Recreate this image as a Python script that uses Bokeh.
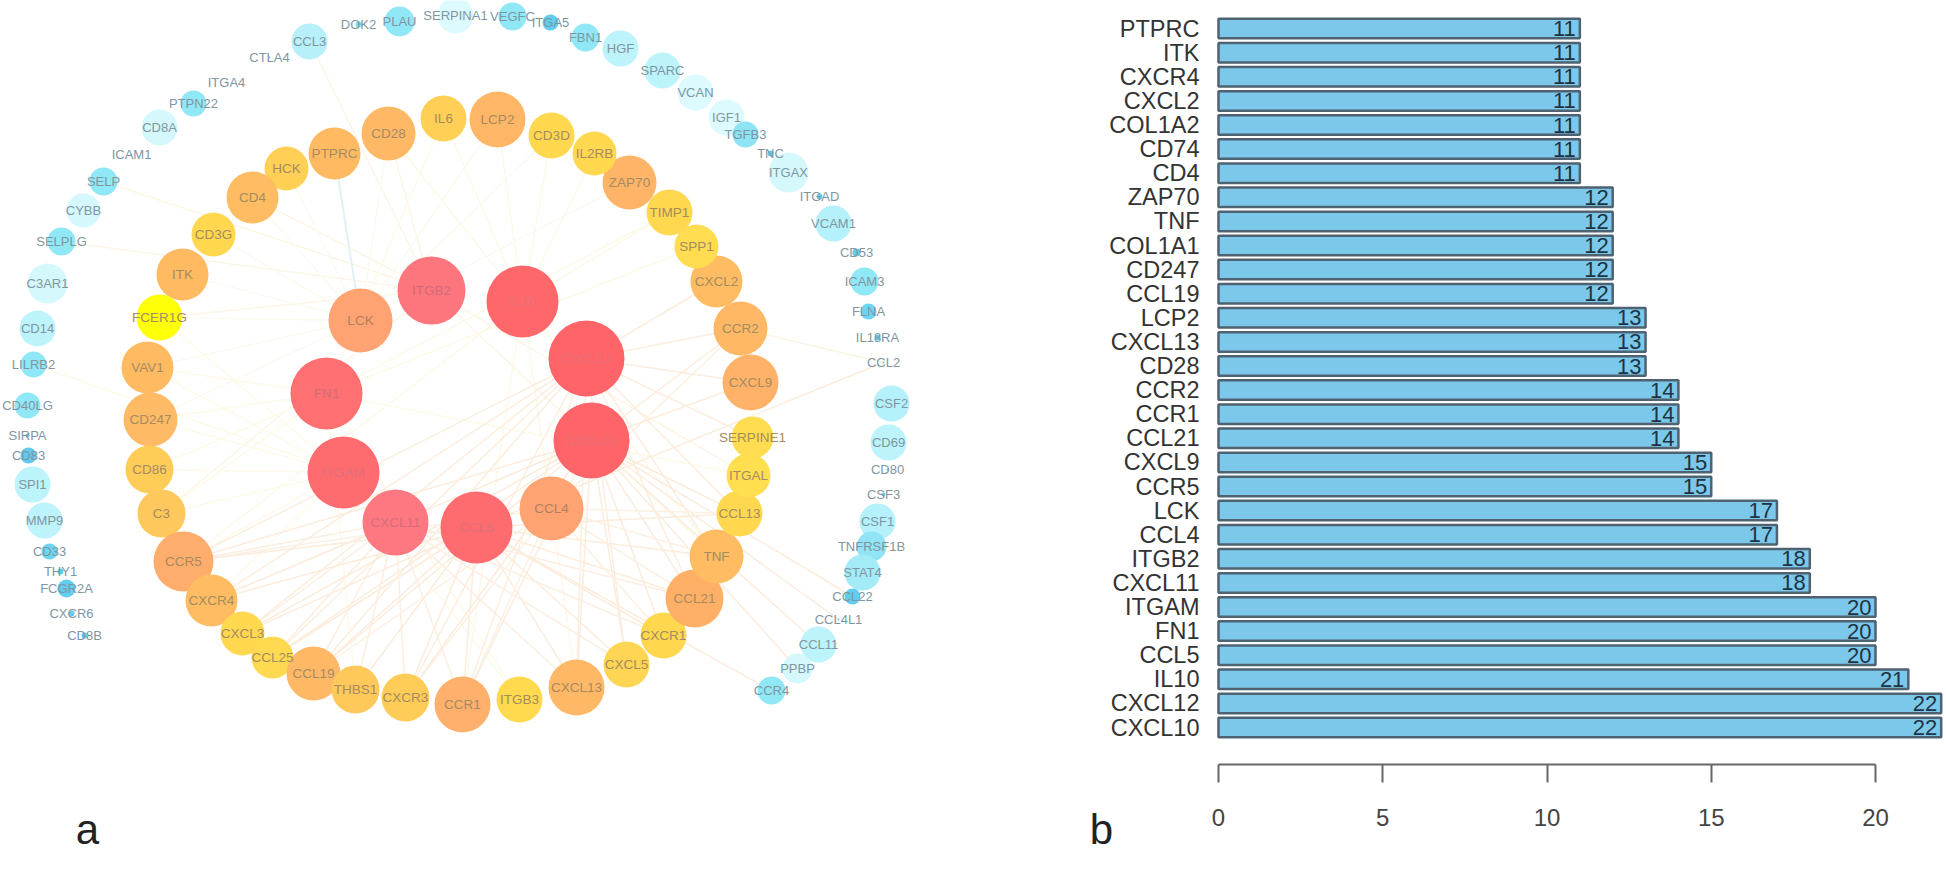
from bokeh.plotting import figure
from bokeh.layouts import row
from bokeh.models import Range1d, FixedTicker
from bokeh.core.properties import value
from bokeh.embed import file_html
from bokeh.resources import INLINE

# ---------- panel b: degree of the top 30 hub genes ----------
bar_genes = ["CXCL10","CXCL12","IL10","CCL5","FN1","ITGAM","CXCL11","ITGB2","CCL4","LCK",
             "CCR5","CXCL9","CCL21","CCR1","CCR2","CD28","CXCL13","LCP2","CCL19","CD247",
             "COL1A1","TNF","ZAP70","CD4","CD74","COL1A2","CXCL2","CXCR4","ITK","PTPRC"]
bar_values = [22,22,21,20,20,20,18,18,17,17,15,15,14,14,14,13,13,13,12,12,12,12,12,11,11,11,11,11,11,11]
x_ticks = [0,5,10,15,20]

# ---------- panel a: network nodes ----------
inner_names = ["ITGB2","CXCL12","CXCL10","IL10","LCK","FN1","ITGAM","CXCL11","CCL5","CCL4"]
inner_x = [431,586,591,522,360,326,343,395,476,551]
inner_y = [290,358,440,301,320,393,472,522,527,508]
inner_r = [34,38,38,36,32,36,36,33,36,32]
inner_c = ["#FD767E","#FF6468","#FF6468","#FF686A","#FFA373","#FF7072","#FF6C70","#FD7880","#FF6C70","#FFA373"]
inner_t = ["#D06C78","#E8707A","#E8707A","#E8707A","#B07F60","#D06C78","#E0707A","#D86C7C","#E0707A","#B07F60"]

ring_names = ["CD28","PTPRC","HCK","CD4","CD3G","ITK","FCER1G","VAV1","CD247","CD86","C3","CCR5","CXCR4",
              "CXCL3","CCL25","CCL19","THBS1","CXCR3","CCR1","ITGB3","CXCL13","CXCL5","CXCR1","CCL21","TNF",
              "CCL13","ITGAL","SERPINE1","CXCL9","CCR2","CXCL2","SPP1","TIMP1","ZAP70","IL2RB","CD3D","LCP2","IL6"]
ring_x = [388,334,286,252,213,182,159,147,150,149,161,183,211,242,272,313,355,405,462,519,576,626,663,694,716,
          739,748,752,750,740,716,696,669,629,594,551,497,443]
ring_y = [133,153,168,197,234,274,317,367,419,469,513,561,600,633,657,673,689,697,704,699,687,664,635,598,556,
          513,475,437,382,328,281,246,212,182,153,135,119,118]
ring_r = [27,26,22,26,22,26,23,26,27,24,24,30,26,22,21,27,24,24,28,23,28,23,23,29,27,23,22,21,28,27,26,22,23,27,22,23,28,23]
ring_c = ["#FFB866","#FFBA62","#FFD055","#FFBC62","#FFD850","#FFBA62","#FFFF08","#FFBA62","#FFBA66","#FFCC58",
          "#FFC85C","#FFAD6C","#FFBC62","#FFD850","#FFDA50","#FFB866","#FFC85A","#FFCC58","#FFB06C","#FFDA4E",
          "#FFB866","#FFD654","#FFD850","#FFB066","#FFBC62","#FFD850","#FFDE50","#FFDC50","#FFB268","#FFB866",
          "#FFBC62","#FFDC50","#FFD850","#FFB468","#FFD850","#FFD850","#FFB666","#FFD055"]

outer_names = ["CCL3","DOK2","PLAU","SERPINA1","VEGFC","ITGA5","FBN1","HGF","SPARC","VCAN","IGF1","TGFB3","TNC","ITGAX",
               "ITGAD","VCAM1","CD53","ICAM3","FLNA","IL18RA","CCL2","CSF2","CD69","CD80","CSF3","CSF1","TNFRSF1B",
               "STAT4","CCL22","CCL4L1","CCL11","PPBP","CCR4","CTLA4","ITGA4","PTPN22","CD8A","ICAM1","SELP","CYBB",
               "SELPLG","C3AR1","CD14","LILRB2","CD40LG","SIRPA","CD83","SPI1","MMP9","CD33","THY1","FCGR2A","CXCR6","CD8B"]
outer_x = [309,358,399,455,512,550,585,620,662,695,726,745,770,788,819,833,856,864,868,877,883,891,888,887,883,877,871,
           862,852,838,818,797,771,269,226,193,159,131,103,83,61,47,37,33,27,27,28,32,44,49,60,66,71,84]
outer_y = [41,24,21,15,16,22,37,48,70,92,117,134,153,172,196,223,252,281,311,337,362,403,442,469,494,521,546,
           572,596,619,644,668,690,57,82,103,127,154,181,210,241,283,328,364,405,435,455,484,520,551,571,588,613,635]
outer_r = [18,3,15,18,14,8,14,18,18,18,18,13,3,20,3,18,4,14,8,3,1,18,18,1,2,18,15,18,8,1,18,15,14,1,1,13,18,1,14,17,14,20,
           18,13,13,2,8,18,18,8,3,9,3,3]
outer_c = ["#B8F0FA","#7FDDF2","#90E8F6","#DDFAFE","#90E8F6","#62CDEE","#90E8F6","#BDF3FB","#BDF3FB","#DDFAFE","#DDFAFE",
           "#8CE4F5","#62CDEE","#D5F8FD","#62CDEE","#B5F1FA","#62CDEE","#90E8F6","#6CD6F2","#62CDEE","#62CDEE","#B5F1FA",
           "#BDF3FB","#62CDEE","#62CDEE","#B5F1FA","#90E4F6","#A4EBF8","#62CDEE","#62CDEE","#BDF3FB","#D5F8FD","#90E8F6",
           "#62CDEE","#62CDEE","#90E8F6","#D5F8FD","#62CDEE","#90E8F6","#D5F8FD","#90E8F6","#D5F8FD","#BDF3FB","#90E8F6",
           "#90E8F6","#62CDEE","#62C8EC","#BDF3FB","#BDF3FB","#6CD6F2","#62CDEE","#62CDEE","#62CDEE","#62CDEE"]

# links of each hub, estimated from the faint lines
hub_links = {
    "ITGB2":  ["CCL3","SELP","SELPLG","CD4","C3","FCER1G","ITGAL","TNF","CD28"],
    "LCK":    ["CD4","CD3G","ITK","FCER1G","VAV1","CD247","CD3D","ZAP70","LCP2","CD28","HCK"],
    "FN1":    ["ITGB3","C3","CD86","CD247","VAV1","TIMP1","SPP1","ITGAL","THBS1","IL6"],
    "IL10":   ["IL6","CD28","LCP2","CCR5","TNF","CXCL13","TIMP1","CCR1","IL2RB","CD3D"],
    "ITGAM":  ["CCR5","C3","CD86","CD247","VAV1","FCER1G","LILRB2","CXCR4","ITGB3"],
    "CXCL12": ["CXCR4","CCL19","CCL21","CXCL2","CCR2","CXCL9","CXCR3","CCR1","TNF","CXCL3","CXCL5","CCL25","CCR5","CXCL13",
               "SERPINE1","CCL13"],
    "CXCL10": ["CCR2","CXCL9","CCL13","CCL21","CXCR1","CXCL5","CXCL13","CCR1","CXCR3","CXCR4","CCR5","CXCL3","CCL25",
               "CCL19","CCL11","CCL22","CCL4L1","PPBP"],
    "CCL5":   ["CCR1","CCR5","CXCR3","CXCL3","CXCL5","CCL19","CCL25","CCL21","CCL13","CXCR1","CXCL13","THBS1","TNF","CXCR4",
               "CCR4","CCL2"],
    "CXCL11": ["CCR5","CXCR4","CXCL3","CCL25","CCL19","THBS1","CXCR3","CCR1","CXCL13","CXCL5","CCL21","CXCR1"],
    "CCL4":   ["CCL13","CCR1","CCR5","TNF","CCL19","CXCR3","CCL21","CXCR1","CCR2"],
    "CCR2":   ["CCL2"],
}
hub_edge_color = {"ITGB2":"#FCF6E6","LCK":"#FAFBF0","FN1":"#FDFAE8","IL10":"#FDF9E8","ITGAM":"#FDFAEA",
                  "CXCL12":"#FCEEDE","CXCL10":"#FCECDC","CCL5":"#FCECDC","CXCL11":"#FCEEE0","CCL4":"#FCF0E2","CCR2":"#FBF5E6"}

W, H = 1944, 880
LEFT_W = 1000
AXIS_Y = 764
BAR_LEFT, BAR_UNIT = 1218, 32.85
BAR_BOTTOM_CENTRE, BAR_STEP = 727, 24.1

# ---------- panel a ----------
pa = figure(width=LEFT_W, height=H, x_range=Range1d(0, LEFT_W), y_range=Range1d(H, 0),
            output_backend="svg", toolbar_location=None, outline_line_color=None, min_border=0,
            background_fill_color="white", border_fill_color="white")
pa.axis.visible = False
pa.grid.visible = False

pos = {}
for names, xs, ys in ((inner_names, inner_x, inner_y), (ring_names, ring_x, ring_y), (outer_names, outer_x, outer_y)):
    for n, x, y in zip(names, xs, ys):
        pos[n] = (x, y)
for hub, targets in hub_links.items():
    pa.segment([pos[hub][0]]*len(targets), [pos[hub][1]]*len(targets),
               [pos[t][0] for t in targets], [pos[t][1] for t in targets],
               line_color=hub_edge_color[hub], line_width=1.5)
pa.segment([pos["PTPRC"][0]], [pos["PTPRC"][1]], [pos["LCK"][0]], [pos["LCK"][1]], line_color="#E3F1F5", line_width=2)

font = value("Liberation Sans")
pa.circle(outer_x, outer_y, radius=outer_r, fill_color=outer_c, line_color=None)
pa.circle(ring_x, ring_y, radius=ring_r, fill_color=ring_c, line_color=None)
pa.circle(inner_x, inner_y, radius=inner_r, fill_color=inner_c, line_color=None)
pa.text(outer_x, outer_y, text=outer_names, text_font=font, text_font_size="13px", text_color="#7F96A2",
        text_align="center", text_baseline="middle")
pa.text(ring_x, ring_y, text=ring_names, text_font=font, text_font_size="13.5px", text_color="#A58B60",
        text_align="center", text_baseline="middle")
pa.text(inner_x, inner_y, text=inner_names, text_font=font, text_font_size="13.5px", text_color=inner_t,
        text_align="center", text_baseline="middle")
pa.text([87], [829], text=["a"], text_font=font, text_font_size="42px", text_color="#222222",
        text_align="center", text_baseline="middle")

# ---------- panel b ----------
bar_y = list(range(len(bar_genes)))
pb = figure(width=W-LEFT_W, height=H,
            x_range=Range1d((LEFT_W-BAR_LEFT)/BAR_UNIT, (W-BAR_LEFT)/BAR_UNIT),
            y_range=Range1d((BAR_BOTTOM_CENTRE-H)/BAR_STEP, BAR_BOTTOM_CENTRE/BAR_STEP),
            output_backend="svg", toolbar_location=None, outline_line_color=None, min_border=0,
            background_fill_color="white", border_fill_color="white")
pb.grid.visible = False
pb.hbar(y=bar_y, right=bar_values, left=0, height=0.81, fill_color="#7CC8EA", line_color="#4F6272", line_width=2.5)
pb.text(x=bar_values, y=bar_y, text=[str(v) for v in bar_values], x_offset=-4,
        text_font=font, text_font_size="22px", text_color="#1E3344",
        text_align="right", text_baseline="middle")

xa = pb.xaxis[0]
xa.fixed_location = (BAR_BOTTOM_CENTRE-AXIS_Y)/BAR_STEP
xa.ticker = FixedTicker(ticks=x_ticks)
xa.bounds = (0, 20)
xa.axis_line_color = "#666666"; xa.axis_line_width = 2
xa.major_tick_line_color = "#666666"; xa.major_tick_line_width = 2
xa.major_tick_out = 18; xa.major_tick_in = 0
xa.minor_tick_out = 0; xa.minor_tick_in = 0
xa.major_label_standoff = 26
xa.major_label_text_font = "Liberation Sans"
xa.major_label_text_font_size = "24px"
xa.major_label_text_color = "#444444"

ya = pb.yaxis[0]
ya.fixed_location = 0
ya.ticker = FixedTicker(ticks=bar_y)
ya.major_label_overrides = {i: g for i, g in enumerate(bar_genes)}
ya.axis_line_color = None
ya.major_tick_line_color = None
ya.minor_tick_line_color = None
ya.major_label_standoff = 13
ya.major_label_text_font = "Liberation Sans"
ya.major_label_text_font_size = "23.5px"
ya.major_label_text_color = "#333333"

pb.text([(1101-BAR_LEFT)/BAR_UNIT], [(BAR_BOTTOM_CENTRE-829)/BAR_STEP], text=["b"], text_font=font,
        text_font_size="42px", text_color="#222222", text_align="center", text_baseline="middle")

layout = row(pa, pb, spacing=0)
open("out.html", "w").write(file_html(layout, INLINE))
